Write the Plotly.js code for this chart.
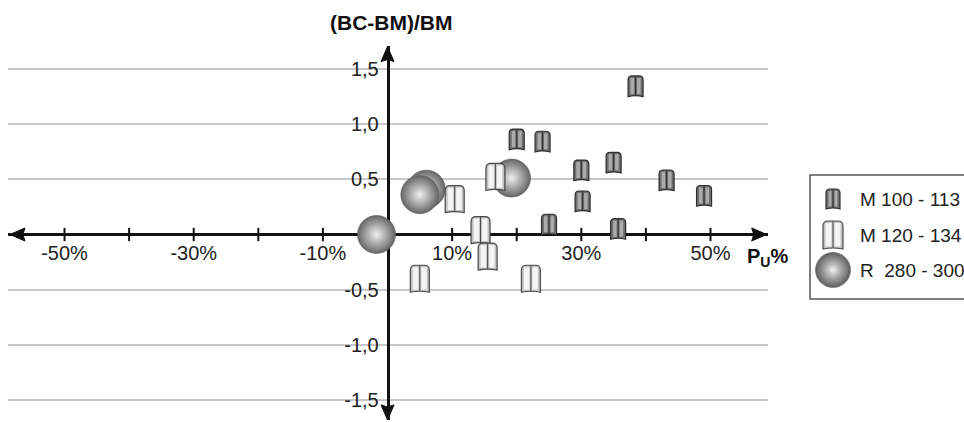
<!DOCTYPE html>
<html><head><meta charset="utf-8">
<script src="https://cdn.plot.ly/plotly-3.0.1.min.js"></script>
<style>html,body{margin:0;padding:0;background:#fff}#chart{width:964px;height:422px}</style>
</head><body><div id="chart"></div>
<script>
// ---------------- data ----------------
const seriesNames = ['M 100 - 113', 'M 120 - 134', 'R  280 - 300'];
const m100X = [0.200, 0.240, 0.384, 0.300, 0.350, 0.432, 0.490, 0.302, 0.250, 0.357];
const m100Y = [0.86, 0.84, 1.34, 0.58, 0.65, 0.49, 0.35, 0.30, 0.09, 0.05];
const m120X = [0.104, 0.167, 0.144, 0.155, 0.050, 0.222];
const m120Y = [0.32, 0.52, 0.04, -0.20, -0.40, -0.40];
const rX = [-0.017, 0.060, 0.050, 0.192];
const rY = [0.00, 0.41, 0.36, 0.51];
const xTickVals = [-0.5, -0.4, -0.3, -0.2, -0.1, 0.1, 0.2, 0.3, 0.4, 0.5];
const xLabelVals = [-0.5, -0.3, -0.1, 0.1, 0.3, 0.5];
const xLabelText = ['-50%', '-30%', '-10%', '10%', '30%', '50%'];
const yTickVals = [-1.5, -1, -0.5, 0.5, 1, 1.5];
const yTickText = ['-1,5', '-1,0', '-0,5', '0,5', '1,0', '1,5'];
const yTitle = '<b>(BC-BM)/BM</b>';
const xTitle = '<b>P<sub>U</sub>%</b>';

// ---------------- geometry ----------------
const W = 964, H = 422, L = 8, R = 0, T = 46, B = 2;
const plotW = W - L - R, plotH = H - T - B;
const xRange = [-0.5875, 0.589], yRange = [-1.677, 1.704];
const xDomEnd = 760 / plotW;
const pxX = p => (p - L) / plotW;
const pxY = p => (H - B - p) / plotH;
const xAxisPos = (0 - yRange[0]) / (yRange[1] - yRange[0]);
const yAxisPos = xDomEnd * (0 - xRange[0]) / (xRange[1] - xRange[0]);
const FONT = 'Liberation Sans, Arial, Helvetica, sans-serif';
const INK = '#111';

// ---------------- marker shapes ----------------
function archPath(w, h, r, notch) {
  return `M${-w},${-h} L${-w},${h - r} Q${-w},${h} ${-w + r},${h} L${w - r},${h} Q${w},${h} ${w},${h - r} L${w},${-h} Q0,${-h + notch} ${-w},${-h} Z`;
}
function markShapes(xref, yref, x, y, st) {
  const base = {type: 'path', xref: xref, yref: yref, xsizemode: 'pixel', ysizemode: 'pixel',
                xanchor: x, yanchor: y, layer: 'above'};
  const w = st.w, h = st.h;
  return [
    Object.assign({}, base, {path: archPath(w, h, st.r, 2), fillcolor: st.edge, line: {color: st.outline, width: 1.2}}),
    Object.assign({}, base, {path: `M${-w + 2.5},${-h + 2.5} L${-w + 2.5},${h - 2} L-1.5,${h - 2} L-1.5,${-h + 2.5} Z`, fillcolor: st.light, line: {width: 0}}),
    Object.assign({}, base, {path: `M1.5,${-h + 2.5} L1.5,${h - 2} L${w - 2.5},${h - 2} L${w - 2.5},${-h + 2.5} Z`, fillcolor: st.light, line: {width: 0}}),
    Object.assign({}, base, {path: `M0,${-h + 1} L0,${h}`, line: {color: st.outline, width: 1}})
  ];
}
const st100 = {w: 7.5, h: 10.3, r: 4, edge: '#6f6f6f', light: '#ababab', outline: '#2e2e2e'};
const st120 = {w: 9.5, h: 13.5, r: 5, edge: '#c2c2c2', light: '#f4f4f4', outline: '#4a4a4a'};
const st100L = {w: 7, h: 10, r: 4, edge: '#6f6f6f', light: '#ababab', outline: '#2e2e2e'};
const st120L = {w: 10, h: 14, r: 5, edge: '#c2c2c2', light: '#f4f4f4', outline: '#4a4a4a'};

let shapes = [];
// axis arrowheads (anchored at the axis ends, sized in pixels)
function arrowHead(x, y, dir) {
  const len = 15, half = 6.5, notch = 2;
  let p;
  if (dir === 'right') p = `M0,0 L${-len},${half} L${-len + notch},0 L${-len},${-half} Z`;
  if (dir === 'left') p = `M0,0 L${len},${half} L${len - notch},0 L${len},${-half} Z`;
  if (dir === 'up') p = `M0,0 L${-half},${-len} L0,${-len + notch} L${half},${-len} Z`;
  if (dir === 'down') p = `M0,0 L${-half},${len} L0,${len - notch} L${half},${len} Z`;
  return {type: 'path', xref: 'x', yref: 'y', xsizemode: 'pixel', ysizemode: 'pixel', xanchor: x, yanchor: y,
          path: p, fillcolor: INK, line: {color: INK, width: 1}, layer: 'above'};
}
shapes.push(arrowHead(0.587, 0, 'right'));
shapes.push(arrowHead(-0.5845, 0, 'left'));
shapes.push(arrowHead(0, 1.699, 'up'));
shapes.push(arrowHead(0, -1.676, 'down'));
// legend box
shapes.push({type: 'rect', xref: 'paper', yref: 'paper', x0: pxX(810), x1: pxX(990), y0: pxY(299), y1: pxY(175),
             line: {color: '#555', width: 1.5}, fillcolor: 'rgba(0,0,0,0)', layer: 'above'});
m120X.forEach((x, i) => { shapes = shapes.concat(markShapes('x', 'y', x, m120Y[i], st120)); });
m100X.forEach((x, i) => { shapes = shapes.concat(markShapes('x', 'y', x, m100Y[i], st100)); });
// legend icons
const legRowsPx = [199, 235, 270];
const legIconX = pxX(833);
shapes = shapes.concat(markShapes('paper', 'paper', legIconX, pxY(legRowsPx[0]), st100L));
shapes = shapes.concat(markShapes('paper', 'paper', legIconX, pxY(legRowsPx[1]), st120L));
const sphereRings = [[17.5, '#6a6a6a'], [15, '#7c7c7c'], [12.5, '#8f8f8f'], [10, '#a3a3a3'], [7.5, '#b8b8b8'], [5, '#cecece'], [2.5, '#e6e6e6']];
sphereRings.forEach(([r, c], i) => {
  shapes.push({type: 'circle', xref: 'paper', yref: 'paper', xsizemode: 'pixel', ysizemode: 'pixel',
               xanchor: legIconX, yanchor: pxY(legRowsPx[2]), x0: -r, x1: r, y0: -r, y1: r,
               fillcolor: c, line: {color: i === 0 ? '#5a5a5a' : c, width: i === 0 ? 0.6 : 0}, layer: 'above'});
});

// ---------------- traces ----------------
const traces = [
  {x: xTickVals, y: xTickVals.map(() => 0), type: 'scatter', mode: 'markers', hoverinfo: 'skip', showlegend: false,
   marker: {symbol: 'line-ns', size: 9.5, line: {color: INK, width: 2}}},
  {x: rX, y: rY, type: 'scatter', mode: 'markers', name: seriesNames[2], showlegend: false, cliponaxis: false,
   marker: {symbol: 'circle', size: 38, color: '#666666', gradient: {type: 'radial', color: '#efefef'},
            line: {color: '#5a5a5a', width: 0.6}}},
  {x: m120X, y: m120Y, type: 'scatter', mode: 'markers', name: seriesNames[1], showlegend: false,
   marker: {symbol: 'square', size: 18, color: 'rgba(0,0,0,0)'}},
  {x: m100X, y: m100Y, type: 'scatter', mode: 'markers', name: seriesNames[0], showlegend: false,
   marker: {symbol: 'square', size: 14, color: 'rgba(0,0,0,0)'}}
];

// ---------------- annotations ----------------
const annotations = [
  {xref: 'paper', yref: 'paper', x: pxX(391), y: pxY(23), xanchor: 'center', yanchor: 'middle', showarrow: false,
   text: yTitle, font: {family: FONT, size: 21, color: INK}},
  {xref: 'paper', yref: 'paper', x: pxX(745), y: pxY(257), xanchor: 'left', yanchor: 'middle', showarrow: false,
   text: xTitle, font: {family: FONT, size: 20, color: INK}}
];
seriesNames.forEach((n, i) => {
  annotations.push({xref: 'paper', yref: 'paper', x: pxX(858), y: pxY(legRowsPx[i]), xanchor: 'left', yanchor: 'middle',
                    showarrow: false, text: n.replace(/  /g, '&nbsp; '), font: {family: FONT, size: 19, color: '#222'}});
});

const layout = {
  width: W, height: H, margin: {l: L, r: R, t: T, b: B},
  paper_bgcolor: '#fff', plot_bgcolor: '#fff', showlegend: false, hovermode: 'closest',
  font: {family: FONT, size: 20, color: '#222'},
  xaxis: {domain: [0, xDomEnd], range: xRange, anchor: 'free', position: xAxisPos, showline: true,
          linecolor: INK, linewidth: 2.5, showgrid: false, zeroline: false, tickmode: 'array',
          tickvals: xLabelVals, ticktext: xLabelText, ticks: '', ticklabelstandoff: 0,
          tickfont: {family: FONT, size: 20, color: '#222'}, layer: 'below traces', fixedrange: true},
  yaxis: {domain: [0, 1], range: yRange, anchor: 'free', position: yAxisPos, showline: true,
          linecolor: INK, linewidth: 2.5, showgrid: true, gridcolor: '#c8c8c8', gridwidth: 1.5, zeroline: false,
          tickmode: 'array', tickvals: yTickVals, ticktext: yTickText, ticks: '', ticklabelstandoff: 4,
          tickfont: {family: FONT, size: 20, color: '#222'}, layer: 'below traces', fixedrange: true},
  shapes: shapes,
  annotations: annotations
};
Plotly.newPlot('chart', traces, layout, {displayModeBar: false, responsive: false});
</script>
</body></html>
